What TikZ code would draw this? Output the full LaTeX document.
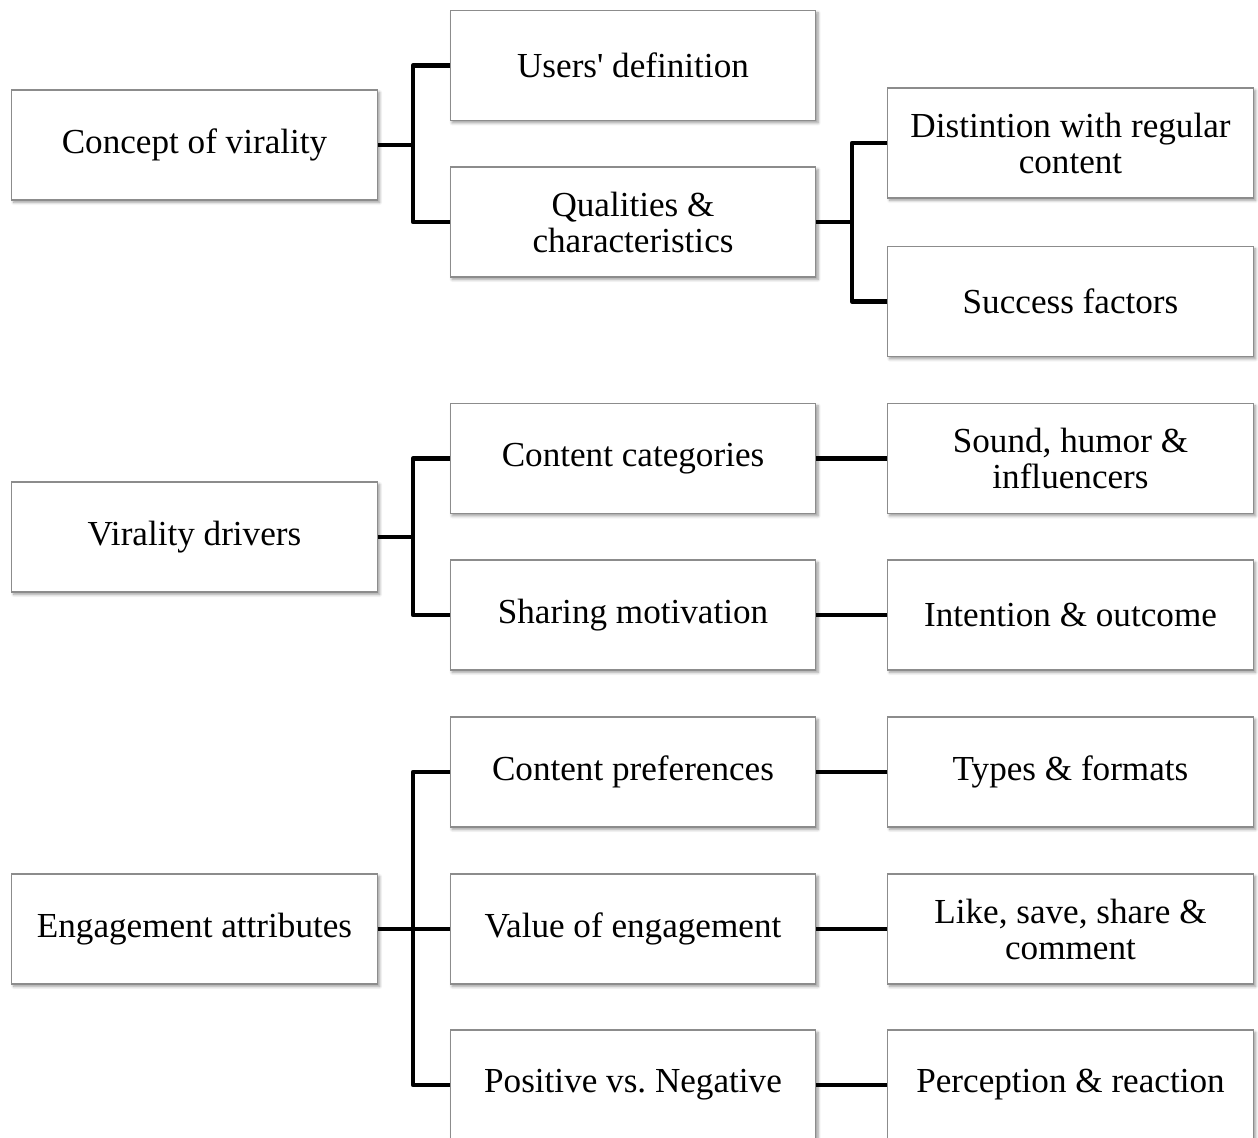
\documentclass[tikz,border=0pt]{standalone}
\usepackage{fontspec}
\setmainfont{Liberation Serif}
\usetikzlibrary{shadows.blur}
% straight apostrophe glyph, taken directly from the font
\newcommand{\straightquote}{\XeTeXglyph\XeTeXcharglyph"0027\relax}
\tikzset{
  box/.style={draw=black!45, line width=0.6pt, fill=white, minimum width=7.32cm,
    minimum height=2.2cm, inner sep=0pt, align=center,
    font=\fontsize{20}{20.5}\selectfont,
    blur shadow={shadow xshift=1.2pt, shadow yshift=-1.4pt, shadow blur steps=6,
      shadow blur radius=1.6pt, shadow opacity=40}},
  conn/.style={line width=2.7pt, line join=round, line cap=butt}
}
\begin{document}
\begin{tikzpicture}[x=0.02cm, y=-0.02cm]
\useasboundingbox (0,0) rectangle (1258,1138);
% first level
\node[box] (cv) at (194.5,145) {Concept of virality};
\node[box] (vd) at (194.5,537) {Virality drivers};
\node[box] (ea) at (194.5,929) {Engagement attributes};
% second level
\node[box] (ud) at (633,65.5) {Users\straightquote{} definition};
\node[box] (qc) at (633,222) {Qualities \&\\characteristics};
\node[box] (cc) at (633,458.5) {Content categories};
\node[box] (sm) at (633,615) {Sharing motivation};
\node[box] (cp) at (633,772) {Content preferences};
\node[box] (ve) at (633,929) {Value of engagement};
\node[box] (pn) at (633,1085) {Positive vs.\ Negative};
% third level
\node[box] (dr) at (1070.5,143) {Distintion with regular\\content};
\node[box] (sf) at (1070.5,301.5) {Success factors};
\node[box] (sh) at (1070.5,458.5) {Sound, humor \&\\influencers};
\node[box] (io) at (1070.5,615) {Intention \& outcome};
\node[box] (tf) at (1070.5,772) {Types \& formats};
\node[box] (ls) at (1070.5,929) {Like, save, share \&\\comment};
\node[box] (pr) at (1070.5,1085) {Perception \& reaction};
% bracket columns
\coordinate (ja) at (413,0);
\coordinate (jb) at (852,0);
% connectors
\draw[conn] (cv.east) -- (cv.east -| ja) |- (ud.west);
\draw[conn] (cv.east -| ja) |- (qc.west);
\draw[conn] (qc.east) -- (qc.east -| jb) |- (dr.west);
\draw[conn] (qc.east -| jb) |- (sf.west);
\draw[conn] (vd.east) -- (vd.east -| ja) |- (cc.west);
\draw[conn] (vd.east -| ja) |- (sm.west);
\draw[conn] (ea.east) -- (ea.east -| ja) |- (cp.west);
\draw[conn] (ea.east -| ja) |- (pn.west);
\draw[conn] (ea.east -| ja) -- (ve.west);
\draw[conn] (cc.east) -- (sh.west);
\draw[conn] (sm.east) -- (io.west);
\draw[conn] (cp.east) -- (tf.west);
\draw[conn] (ve.east) -- (ls.west);
\draw[conn] (pn.east) -- (pr.west);
\end{tikzpicture}
\end{document}
